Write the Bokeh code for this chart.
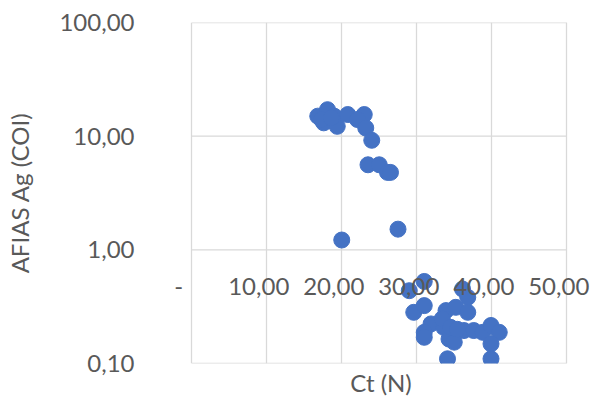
from bokeh.plotting import figure
from bokeh.models import FixedTicker, CustomJSTickFormatter, Range1d, Label, Title
from bokeh.embed import file_html
from bokeh.resources import INLINE

ct = [16.8, 18.1, 17.6, 19.4, 19.0, 20.8, 23.0, 22.1, 23.2, 24.0, 23.5, 25.0, 26.1, 26.5,
      17.3, 18.6, 20.0, 27.5,
      29.0, 31.0, 29.6, 31.0, 36.1, 36.8, 33.9, 35.2, 36.8, 31.9, 31.0, 31.0, 33.6, 34.3,
      35.0, 36.3, 37.6, 38.8, 39.9, 41.0, 39.9, 39.9, 34.1, 33.4, 34.5, 35.4]
coi = [15.0, 17.1, 13.1, 12.2, 15.0, 15.5, 15.5, 14.0, 11.8, 9.2, 5.6, 5.6, 4.8, 4.8,
       14.0, 14.5, 1.22, 1.52,
       0.437, 0.527, 0.282, 0.323, 0.452, 0.382, 0.292, 0.312, 0.282, 0.223, 0.188, 0.170, 0.208, 0.164,
       0.154, 0.195, 0.195, 0.188, 0.216, 0.188, 0.149, 0.110, 0.110, 0.247, 0.208, 0.200]

x_ticks = [0, 10, 20, 30, 40, 50]
x_tick_labels = ["-", "10,00", "20,00", "30,00", "40,00", "50,00"]
y_ticks = [0.1, 1, 10, 100]

FONT = "Lato"
GRAY = "#595959"
GRID = "#d9d9d9"

# frame is a bit wider than the gridded area so the in-plot tick labels are not clipped
PX_PER_UNIT = 7.5
X_PAD_LEFT = 2.7
FRAME_W = 419
x_start = -X_PAD_LEFT
x_end = x_start + FRAME_W / PX_PER_UNIT
border_left = 191 - round(X_PAD_LEFT * PX_PER_UNIT)

p = figure(frame_width=FRAME_W, frame_height=341, output_backend="svg", toolbar_location=None,
           y_axis_type="log", x_range=Range1d(x_start, x_end), y_range=Range1d(0.1, 100),
           min_border_left=border_left, min_border_top=22, min_border_right=2, min_border_bottom=8)
p.outline_line_color = None

p.xaxis.visible = False
p.xgrid.ticker = FixedTicker(ticks=x_ticks)
p.xgrid.grid_line_color = GRID
p.xgrid.grid_line_width = 1.3
p.yaxis.ticker = FixedTicker(ticks=y_ticks)
p.ygrid.visible = False

# horizontal gridlines limited to the plotted x extent
p.segment(x0=[x_ticks[0]] * len(y_ticks), x1=[x_ticks[-1]] * len(y_ticks), y0=y_ticks, y1=y_ticks,
          line_color=GRID, line_width=1.3)

p.add_layout(Title(text="Ct (N)", align="center", text_font=FONT, text_font_size="24px",
                   text_font_style="normal", text_color=GRAY, standoff=4, offset=0), "below")

ax = p.yaxis[0]
ax.axis_line_color = None
ax.major_tick_line_color = None
ax.minor_tick_line_color = None
ax.axis_label = "AFIAS Ag (COI)"
ax.axis_label_text_font = FONT
ax.axis_label_text_font_size = "24px"
ax.axis_label_text_font_style = "normal"
ax.axis_label_text_color = GRAY
ax.formatter = CustomJSTickFormatter(code="return tick.toFixed(2).replace('.', ',');")
ax.major_label_text_font = FONT
ax.major_label_text_font_size = "24px"
ax.major_label_text_color = GRAY
ax.major_label_standoff = 51 - round(X_PAD_LEFT * PX_PER_UNIT)
ax.axis_label_standoff = 22

p.scatter(ct, coi, size=16, color="#4472C4", line_color="#4472C4")

for xv, lab in zip(x_ticks, x_tick_labels):
    p.add_layout(Label(x=xv, y=1, text=lab, text_align="center", text_baseline="middle",
                       x_offset=-13 if lab == "-" else -8, y_offset=-37, level="overlay",
                       text_font=FONT, text_font_size="24px", text_color=GRAY))

open("out.html", "w").write(file_html(p, INLINE))
